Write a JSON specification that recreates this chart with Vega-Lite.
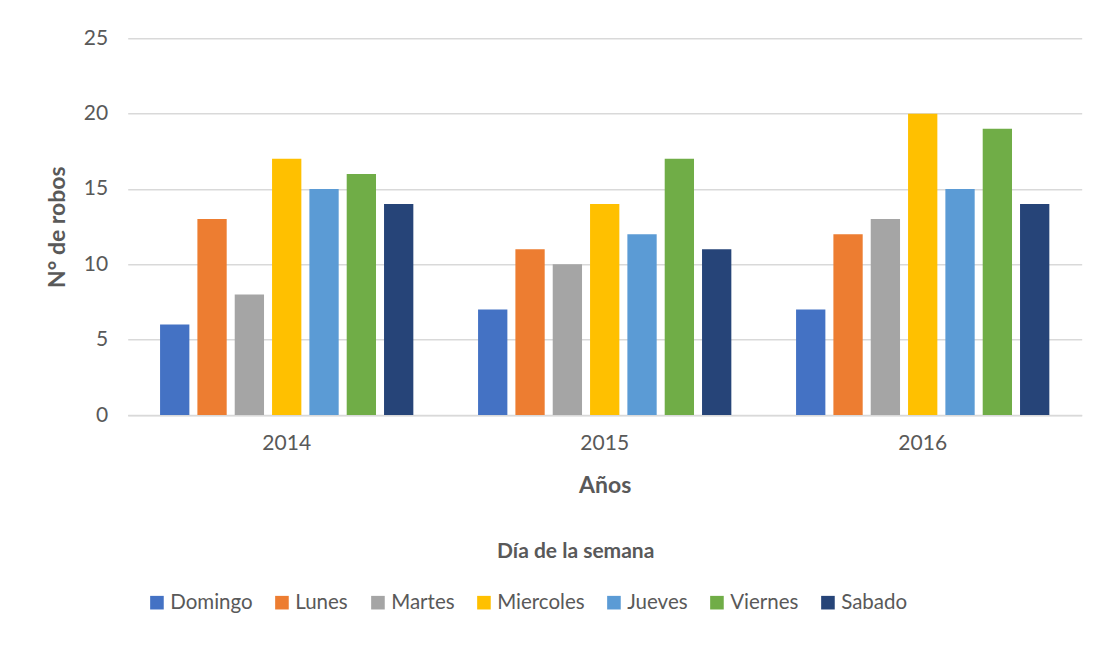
{
  "$schema": "https://vega.github.io/schema/vega-lite/v6.json",
  "width": 954,
  "height": 376.7,
  "autosize": {"type": "none"},
  "padding": {"left": 127.7, "top": 38.3, "right": 14.3, "bottom": 238},
  "background": "white",
  "title": {
    "text": "Día de la semana",
    "orient": "bottom",
    "anchor": "middle",
    "frame": "group",
    "fontSize": 21,
    "fontWeight": "bold",
    "color": "#595959",
    "font": "Lato",
    "dx": -29,
    "dy": -72,
    "offset": 0
  },
  "data": {
    "values": [
      {"anio": "2014", "dia": "Domingo", "robos": 6},
      {"anio": "2014", "dia": "Lunes", "robos": 13},
      {"anio": "2014", "dia": "Martes", "robos": 8},
      {"anio": "2014", "dia": "Miercoles", "robos": 17},
      {"anio": "2014", "dia": "Jueves", "robos": 15},
      {"anio": "2014", "dia": "Viernes", "robos": 16},
      {"anio": "2014", "dia": "Sabado", "robos": 14},
      {"anio": "2015", "dia": "Domingo", "robos": 7},
      {"anio": "2015", "dia": "Lunes", "robos": 11},
      {"anio": "2015", "dia": "Martes", "robos": 10},
      {"anio": "2015", "dia": "Miercoles", "robos": 14},
      {"anio": "2015", "dia": "Jueves", "robos": 12},
      {"anio": "2015", "dia": "Viernes", "robos": 17},
      {"anio": "2015", "dia": "Sabado", "robos": 11},
      {"anio": "2016", "dia": "Domingo", "robos": 7},
      {"anio": "2016", "dia": "Lunes", "robos": 12},
      {"anio": "2016", "dia": "Martes", "robos": 13},
      {"anio": "2016", "dia": "Miercoles", "robos": 20},
      {"anio": "2016", "dia": "Jueves", "robos": 15},
      {"anio": "2016", "dia": "Viernes", "robos": 19},
      {"anio": "2016", "dia": "Sabado", "robos": 14}
    ]
  },
  "mark": {"type": "bar"},
  "encoding": {
    "x": {
      "field": "anio",
      "type": "nominal",
      "title": "Años",
      "scale": {"paddingInner": 0, "paddingOuter": 0},
      "axis": {
        "labelAngle": 0,
        "labelFontSize": 21,
        "labelColor": "#595959",
        "labelPadding": 17,
        "ticks": false,
        "domain": true,
        "domainColor": "#d9d9d9",
        "domainWidth": 1.5,
        "grid": false,
        "titleFontSize": 23,
        "titleFontWeight": "bold",
        "titleColor": "#595959",
        "titlePadding": 21
      }
    },
    "xOffset": {
      "field": "dia",
      "type": "nominal",
      "sort": ["Domingo", "Lunes", "Martes", "Miercoles", "Jueves", "Viernes", "Sabado"],
      "scale": {"paddingInner": 0.215, "paddingOuter": 0.867}
    },
    "y": {
      "field": "robos",
      "type": "quantitative",
      "title": "N° de robos",
      "scale": {"domain": [0, 25], "nice": false},
      "axis": {
        "values": [0, 5, 10, 15, 20, 25],
        "labelFontSize": 21,
        "labelColor": "#595959",
        "labelPadding": 20,
        "ticks": false,
        "domain": false,
        "grid": true,
        "gridColor": "#d9d9d9",
        "gridWidth": 1.5,
        "titleFontSize": 23,
        "titleFontWeight": "bold",
        "titleColor": "#595959",
        "titlePadding": 14
      }
    },
    "color": {
      "field": "dia",
      "type": "nominal",
      "sort": ["Domingo", "Lunes", "Martes", "Miercoles", "Jueves", "Viernes", "Sabado"],
      "scale": {
        "domain": ["Domingo", "Lunes", "Martes", "Miercoles", "Jueves", "Viernes", "Sabado"],
        "range": ["#4472C4", "#ED7D31", "#A5A5A5", "#FFC000", "#5B9BD5", "#70AD47", "#264478"]
      },
      "legend": {
        "orient": "none",
        "direction": "horizontal",
        "legendX": 19,
        "legendY": 554,
        "title": null,
        "symbolType": "square",
        "symbolSize": 185,
        "symbolStrokeWidth": 0,
        "labelFontSize": 20.5,
        "labelColor": "#595959",
        "labelOffset": 3,
        "columnPadding": 19
      }
    }
  },
  "config": {
    "view": {"stroke": null},
    "font": "Lato"
  }
}
